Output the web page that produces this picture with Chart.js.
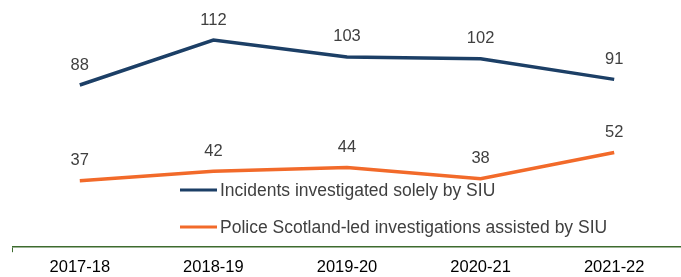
<!DOCTYPE html>
<html>
<head>
<meta charset="utf-8">
<script src="https://cdn.jsdelivr.net/npm/chart.js@4.4.0/dist/chart.umd.min.js"></script>
<style>
  html, body { margin: 0; padding: 0; background: #fff; }
  #wrap { width: 681px; height: 277px; }
</style>
</head>
<body>
<div id="wrap"><canvas id="chart"></canvas></div>
<script>
// Data
const years = ["2017-18", "2018-19", "2019-20", "2020-21", "2021-22"];
const siuOnly = [88, 112, 103, 102, 91];
const policeLed = [37, 42, 44, 38, 52];
const seriesNames = [
  "Incidents investigated solely by SIU",
  "Police Scotland-led investigations assisted by SIU"
];

const navy = "#1c3f66";
const orange = "#f26a2a";
const textGrey = "#404040";
const axisGreen = "#3d6b2e";
const fontFamily = "'Liberation Sans', Arial, sans-serif";

// Draws value labels above each point
const valueLabels = {
  id: "valueLabels",
  afterDatasetsDraw(chart) {
    const ctx = chart.ctx;
    ctx.save();
    ctx.font = "16.5px " + fontFamily;
    ctx.fillStyle = textGrey;
    ctx.textAlign = "center";
    ctx.textBaseline = "middle";
    chart.data.datasets.forEach((ds, i) => {
      chart.getDatasetMeta(i).data.forEach((pt, j) => {
        ctx.fillText(ds.data[j], pt.x, pt.y - 20);
      });
    });
    ctx.restore();
  }
};

// Legend drawn inside the plot, lower middle
const innerLegend = {
  id: "innerLegend",
  afterDraw(chart) {
    const ctx = chart.ctx;
    ctx.save();
    ctx.font = "17.5px " + fontFamily;
    ctx.textBaseline = "middle";
    const rows = [190, 227];
    chart.data.datasets.forEach((ds, i) => {
      const y = rows[i];
      ctx.strokeStyle = ds.borderColor;
      ctx.lineWidth = 3;
      ctx.beginPath();
      ctx.moveTo(180, y);
      ctx.lineTo(217, y);
      ctx.stroke();
      ctx.fillStyle = textGrey;
      ctx.fillText(ds.label, 220, y + 1);
    });
    ctx.restore();
  }
};

new Chart(document.getElementById("chart").getContext("2d"), {
  type: "line",
  data: {
    labels: years,
    datasets: [
      {
        label: seriesNames[0],
        data: siuOnly,
        borderColor: navy,
        backgroundColor: navy,
        borderWidth: 3.5,
        pointRadius: 0,
        tension: 0
      },
      {
        label: seriesNames[1],
        data: policeLed,
        borderColor: orange,
        backgroundColor: orange,
        borderWidth: 3.5,
        pointRadius: 0,
        tension: 0
      }
    ]
  },
  options: {
    responsive: true,
    maintainAspectRatio: false,
    animation: false,
    layout: { padding: { left: 13, right: -4, top: 25, bottom: -5 } },
    plugins: {
      legend: { display: false },
      tooltip: { enabled: false }
    },
    scales: {
      x: {
        offset: true,
        border: { display: true, color: axisGreen, width: 1.5 },
        grid: {
          offset: true,
          drawOnChartArea: false,
          tickLength: 5,
          color: (c) => (c.index === 0 ? axisGreen : "rgba(0,0,0,0)")
        },
        ticks: {
          color: "#000",
          padding: 5,
          font: { family: fontFamily, size: 16.5 }
        }
      },
      y: {
        display: false,
        min: 1.5,
        max: 120
      }
    }
  },
  plugins: [valueLabels, innerLegend]
});
</script>
</body>
</html>
